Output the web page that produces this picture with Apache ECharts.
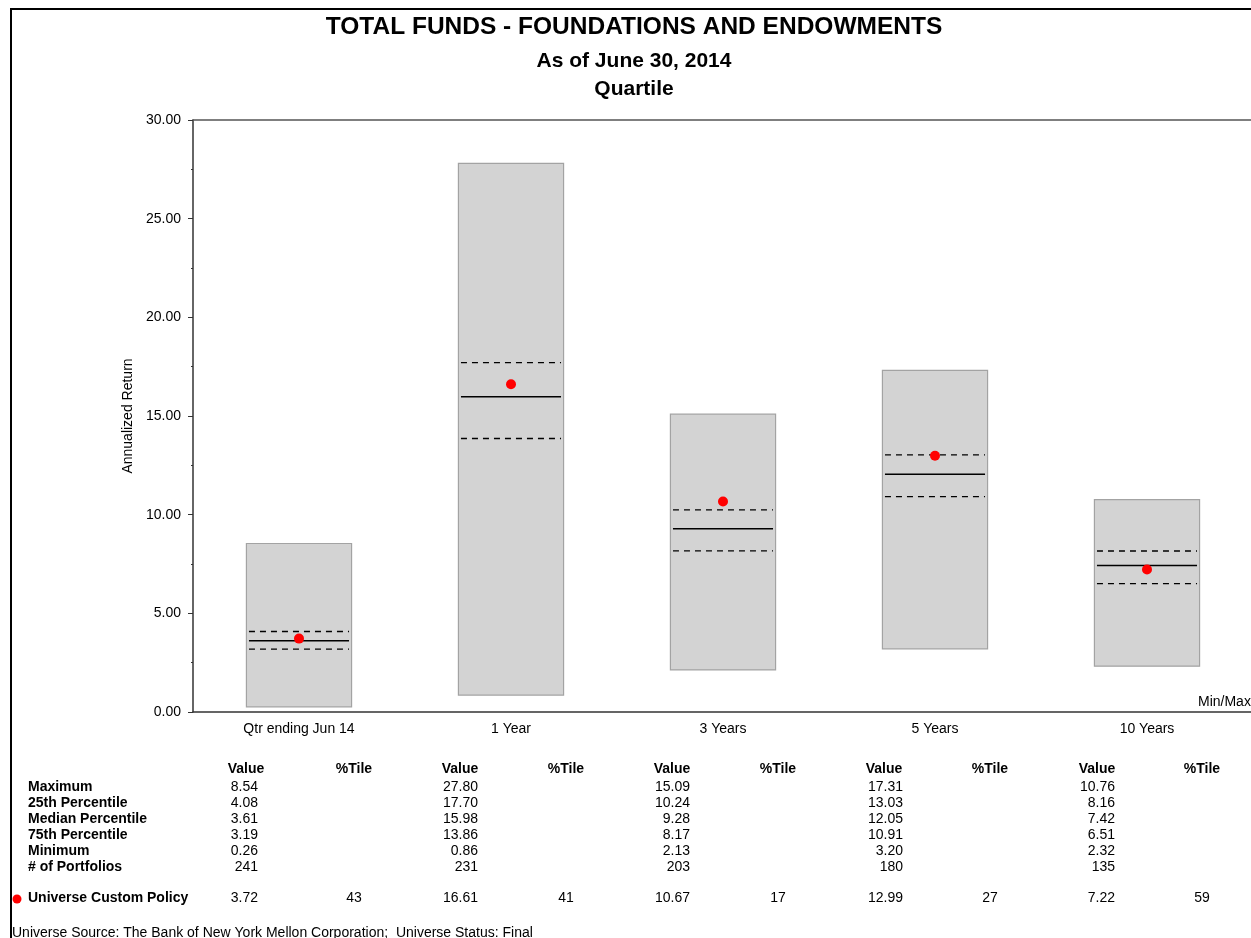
<!DOCTYPE html>
<html>
<head>
<meta charset="utf-8">
<script src="https://cdn.jsdelivr.net/npm/echarts@6/dist/echarts.min.js"></script>
<style>
  html, body { margin: 0; padding: 0; background: #fff; }
  #chart { width: 1251px; height: 938px; }
</style>
</head>
<body>
<div id="chart"></div>
<script>
// periods on the x axis
var categories = ['Qtr ending Jun 14', '1 Year', '3 Years', '5 Years', '10 Years'];
// universe statistics per period
var maxVals    = [8.54, 27.80, 15.09, 17.31, 10.76];
var p25Vals    = [4.08, 17.70, 10.24, 13.03, 8.16];
var medianVals = [3.61, 15.98, 9.28, 12.05, 7.42];
var p75Vals    = [3.19, 13.86, 8.17, 10.91, 6.51];
var minVals    = [0.26, 0.86, 2.13, 3.20, 2.32];
var portfolios = [241, 231, 203, 180, 135];
// universe custom policy
var policyVals = [3.72, 16.61, 10.67, 12.99, 7.22];
var policyRank = [43, 41, 17, 27, 59];

var rowLabels = ['Maximum', '25th Percentile', 'Median Percentile', '75th Percentile', 'Minimum', '# of Portfolios'];

var FONT = 'Liberation Sans, Arial, sans-serif';
// table column offsets from the category centre (layout only)
var valueOffset = [-41, -33, -33, -32, -32];
var headerOffset = [-53, -51, -51, -51, -50];

var boxData = categories.map(function (c, i) {
    return [i, maxVals[i], p25Vals[i], medianVals[i], p75Vals[i], minVals[i]];
});

var chart = echarts.init(document.getElementById('chart'));

var option = {
    animation: false,
    textStyle: { fontFamily: FONT },
    grid: { left: 193, top: 120, width: 1060, height: 592, outerBoundsMode: 'none', containLabel: false },
    xAxis: [{
        type: 'category',
        data: categories,
        axisLine: { lineStyle: { color: '#333', width: 1.5 } },
        axisTick: { alignWithLabel: true, length: 5, lineStyle: { color: '#333' } },
        axisLabel: { color: '#000', fontSize: 14, margin: 10, fontFamily: FONT },
        splitLine: { show: false }
    }, {
        type: 'category',
        data: categories,
        position: 'top',
        axisLine: { lineStyle: { color: '#555', width: 1.5 } },
        axisTick: { show: false },
        axisLabel: { show: false }
    }],
    yAxis: {
        type: 'value',
        min: 0,
        max: 30,
        interval: 5,
        name: 'Annualized Return',
        nameLocation: 'middle',
        nameRotate: 90,
        nameGap: 51,
        nameTextStyle: { color: '#000', fontSize: 14, fontFamily: FONT },
        axisLine: { show: true, lineStyle: { color: '#333', width: 1.5 } },
        axisTick: { show: true, length: 5, lineStyle: { color: '#333' } },
        minorTick: { show: true, splitNumber: 2, length: 2, lineStyle: { color: '#333' } },
        splitLine: { show: false },
        axisLabel: {
            color: '#000', fontSize: 14, margin: 12, fontFamily: FONT,
            formatter: function (v) { return v.toFixed(2); }
        }
    },
    series: [{
        type: 'custom',
        data: boxData,
        z: 2,
        renderItem: function (params, api) {
            var i = api.value(0);
            var cx = api.coord([i, 0])[0];
            var band = api.size([1, 0])[0];
            var hb = band * 0.248;
            var hl = band * 0.236;
            var yMax = api.coord([i, api.value(1)])[1];
            var y25 = api.coord([i, api.value(2)])[1];
            var yMed = api.coord([i, api.value(3)])[1];
            var y75 = api.coord([i, api.value(4)])[1];
            var yMin = api.coord([i, api.value(5)])[1];
            return {
                type: 'group',
                children: [{
                    type: 'rect',
                    shape: { x: cx - hb, y: yMax, width: hb * 2, height: yMin - yMax },
                    style: { fill: '#d3d3d3', stroke: '#a3a3a3', lineWidth: 1.2 }
                }, {
                    type: 'line',
                    shape: { x1: cx - hl, y1: y25, x2: cx + hl, y2: y25 },
                    style: { stroke: '#000', lineWidth: 1.3, lineDash: [6, 5] }
                }, {
                    type: 'line',
                    shape: { x1: cx - hl, y1: yMed, x2: cx + hl, y2: yMed },
                    style: { stroke: '#000', lineWidth: 1.5 }
                }, {
                    type: 'line',
                    shape: { x1: cx - hl, y1: y75, x2: cx + hl, y2: y75 },
                    style: { stroke: '#000', lineWidth: 1.3, lineDash: [6, 5] }
                }]
            };
        }
    }, {
        type: 'scatter',
        data: policyVals,
        symbolSize: 10,
        z: 5,
        itemStyle: { color: '#ff0000', opacity: 1 }
    }]
};

chart.setOption(option);

// titles, frame and the table under the chart
function txt(x, y, s, opt) {
    opt = opt || {};
    return {
        type: 'text',
        x: x, y: y,
        style: {
            text: s,
            fill: '#000',
            font: (opt.bold ? 'bold ' : '') + (opt.size || 14) + 'px ' + FONT,
            textAlign: opt.align || 'left',
            textVerticalAlign: 'middle'
        }
    };
}

var g = [];
g.push({ type: 'line', shape: { x1: 10, y1: 9, x2: 1251, y2: 9 }, style: { stroke: '#000', lineWidth: 2 } });
g.push({ type: 'line', shape: { x1: 11, y1: 8, x2: 11, y2: 938 }, style: { stroke: '#000', lineWidth: 2 } });
g.push(txt(634, 27, 'TOTAL FUNDS - FOUNDATIONS AND ENDOWMENTS', { bold: true, size: 24.5, align: 'center' }));
g.push(txt(634, 61, 'As of June 30, 2014', { bold: true, size: 21, align: 'center' }));
g.push(txt(634, 89, 'Quartile', { bold: true, size: 21, align: 'center' }));
g.push(txt(1198, 702, 'Min/Max', { size: 14 }));

var rowY = [787, 803, 819, 835, 851, 867];
var rowSets = [maxVals, p25Vals, medianVals, p75Vals, minVals];
rowLabels.forEach(function (lab, r) {
    g.push(txt(28, rowY[r], lab, { bold: true }));
});
categories.forEach(function (c, i) {
    var cx = chart.convertToPixel({ xAxisIndex: 0 }, c);
    var vr = cx + valueOffset[i];
    g.push(txt(cx + headerOffset[i], 769, 'Value', { bold: true, align: 'center' }));
    g.push(txt(cx + 55, 769, '%Tile', { bold: true, align: 'center' }));
    rowSets.forEach(function (arr, r) {
        g.push(txt(vr, rowY[r], arr[i].toFixed(2), { align: 'right' }));
    });
    g.push(txt(vr, rowY[5], String(portfolios[i]), { align: 'right' }));
    g.push(txt(vr, 898, policyVals[i].toFixed(2), { align: 'right' }));
    g.push(txt(cx + 55, 898, String(policyRank[i]), { align: 'center' }));
});
g.push({ type: 'circle', shape: { cx: 17, cy: 899, r: 4.5 }, style: { fill: '#ff0000' } });
g.push(txt(28, 898, 'Universe Custom Policy', { bold: true }));
g.push(txt(12, 933, 'Universe Source: The Bank of New York Mellon Corporation;  Universe Status: Final', { size: 14 }));

chart.setOption({ graphic: g });
</script>
</body>
</html>
